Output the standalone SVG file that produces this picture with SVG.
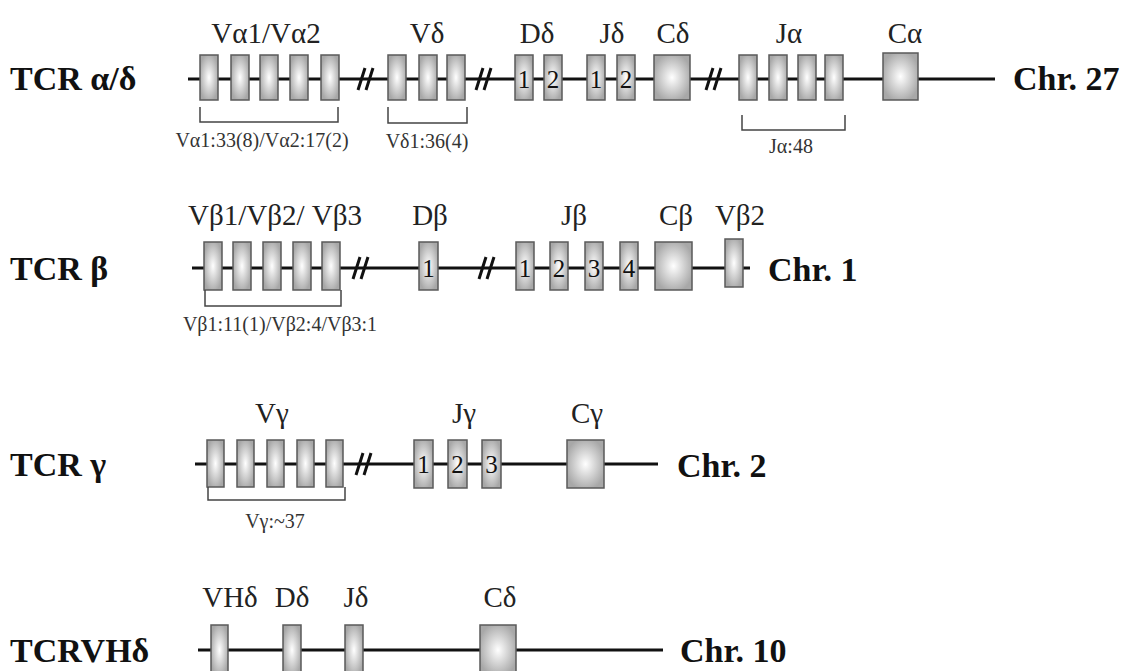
<svg xmlns="http://www.w3.org/2000/svg" width="1131" height="671" viewBox="0 0 1131 671">
<defs>
<radialGradient id="g" cx="0.5" cy="0.5" r="0.55">
<stop offset="0" stop-color="#ffffff"/>
<stop offset="1" stop-color="#a8a8a8"/>
</radialGradient>
<style>
.ln{stroke:#111;stroke-width:3;fill:none}
.sl{stroke:#111;stroke-width:3;fill:none}
.bx{fill:url(#g);stroke:#5a5a5a;stroke-width:1.5}
.br{fill:none;stroke:#444;stroke-width:1.5}
.t{font-family:"Liberation Serif",serif;font-size:29px;text-anchor:middle;fill:#222}
.h{font-family:"Liberation Serif",serif;font-size:34px;font-weight:bold;fill:#111}
.s{font-family:"Liberation Serif",serif;font-size:20px;text-anchor:middle;fill:#333}
.n{font-family:"Liberation Serif",serif;font-size:25px;text-anchor:middle;fill:#111}
</style>
</defs>
<rect width="1131" height="671" fill="#fff"/>
<g id="connectors">
<line class="ln" x1="188" y1="79" x2="995" y2="79"/>
<line class="ln" x1="192" y1="268" x2="750" y2="268"/>
<line class="ln" x1="195" y1="464" x2="658" y2="464"/>
<line class="ln" x1="198" y1="650" x2="663" y2="650"/>
<path class="sl" d="M358 90 L365 68 M366 90 L373 68 M476 90 L483 68 M484 90 L491 68 M706 90 L713 68 M714 90 L721 68"/>
<path class="sl" d="M353 279 L360 257 M361 279 L368 257 M479 279 L486 257 M487 279 L494 257"/>
<path class="sl" d="M356 475 L363 453 M364 475 L371 453"/>
</g>
<g id="row1">
<text class="h" x="10" y="90">TCR α/δ</text>
<g id="Va">
<text class="t" x="266" y="43">Vα1/Vα2</text>
<rect class="bx" x="200" y="55" width="18" height="45"/><rect class="bx" x="231" y="55" width="18" height="45"/><rect class="bx" x="260" y="55" width="18" height="45"/><rect class="bx" x="290" y="55" width="18" height="45"/><rect class="bx" x="321" y="55" width="18" height="45"/>
<path class="br" d="M200 107 V122 H338 V107"/>
<text class="s" x="262" y="147">Vα1:33(8)/Vα2:17(2)</text>
</g>
<g id="Vd">
<text class="t" x="427" y="43">Vδ</text>
<rect class="bx" x="388" y="55" width="18" height="45"/><rect class="bx" x="419" y="55" width="18" height="45"/><rect class="bx" x="447" y="55" width="18" height="45"/>
<path class="br" d="M388 107 V123 H467 V107"/>
<text class="s" x="427" y="148">Vδ1:36(4)</text>
</g>
<g id="Dd">
<text class="t" x="537" y="43">Dδ</text>
<rect class="bx" x="515" y="55" width="18" height="45"/><rect class="bx" x="544" y="55" width="18" height="45"/>
<text class="n" x="524" y="88">1</text><text class="n" x="553" y="88">2</text>
</g>
<g id="Jd">
<text class="t" x="612" y="43">Jδ</text>
<rect class="bx" x="587" y="55" width="18" height="45"/><rect class="bx" x="617" y="55" width="18" height="45"/>
<text class="n" x="596" y="88">1</text><text class="n" x="626" y="88">2</text>
</g>
<g id="Cd">
<text class="t" x="673" y="43">Cδ</text>
<rect class="bx" x="654" y="55" width="36" height="45"/>
</g>
<g id="Ja">
<text class="t" x="789" y="43">Jα</text>
<rect class="bx" x="739" y="55" width="18" height="45"/><rect class="bx" x="769" y="55" width="18" height="45"/><rect class="bx" x="798" y="55" width="18" height="45"/><rect class="bx" x="825" y="55" width="18" height="45"/>
<path class="br" d="M742 115 V130 H845 V115"/>
<text class="s" x="791" y="153">Jα:48</text>
</g>
<g id="Ca">
<text class="t" x="905" y="43">Cα</text>
<rect class="bx" x="883" y="53" width="35" height="47"/>
</g>
<text class="h" x="1013" y="90">Chr. 27</text>
</g>
<g id="row2">
<text class="h" x="10" y="280">TCR β</text>
<g id="Vb">
<text class="t" x="275" y="225">Vβ1/Vβ2/ Vβ3</text>
<rect class="bx" x="204" y="242" width="18" height="48"/><rect class="bx" x="233" y="242" width="18" height="48"/><rect class="bx" x="263" y="242" width="18" height="48"/><rect class="bx" x="293" y="242" width="18" height="48"/><rect class="bx" x="322" y="242" width="18" height="48"/>
<path class="br" d="M205 290 V306 H341 V290"/>
<text class="s" x="280" y="331">Vβ1:11(1)/Vβ2:4/Vβ3:1</text>
</g>
<g id="Db">
<text class="t" x="430" y="225">Dβ</text>
<rect class="bx" x="419" y="242" width="19" height="48"/>
<text class="n" x="428.5" y="277">1</text>
</g>
<g id="Jb">
<text class="t" x="574" y="225">Jβ</text>
<rect class="bx" x="516" y="242" width="18" height="48"/><rect class="bx" x="550" y="242" width="18" height="48"/><rect class="bx" x="585" y="242" width="18" height="48"/><rect class="bx" x="620" y="242" width="18" height="48"/>
<text class="n" x="525" y="277">1</text><text class="n" x="559" y="277">2</text><text class="n" x="594" y="277">3</text><text class="n" x="629" y="277">4</text>
</g>
<g id="Cb">
<text class="t" x="676" y="225">Cβ</text>
<rect class="bx" x="655" y="242" width="37" height="48"/>
</g>
<g id="Vb2">
<text class="t" x="740" y="225">Vβ2</text>
<rect class="bx" x="725" y="239" width="18" height="48"/>
</g>
<text class="h" x="768" y="281">Chr. 1</text>
</g>
<g id="row3">
<text class="h" x="10" y="476">TCR γ</text>
<g id="Vg">
<text class="t" x="272" y="423">Vγ</text>
<rect class="bx" x="207" y="440" width="17" height="47"/><rect class="bx" x="237" y="440" width="17" height="47"/><rect class="bx" x="267" y="440" width="17" height="47"/><rect class="bx" x="297" y="440" width="17" height="47"/><rect class="bx" x="326" y="440" width="17" height="47"/>
<path class="br" d="M208 487 V500 H345 V487"/>
<text class="s" x="275" y="528">Vγ:~37</text>
</g>
<g id="Jg">
<text class="t" x="464" y="423">Jγ</text>
<rect class="bx" x="414" y="440" width="19" height="48"/><rect class="bx" x="448" y="440" width="19" height="48"/><rect class="bx" x="482" y="440" width="19" height="48"/>
<text class="n" x="423.5" y="473">1</text><text class="n" x="457.5" y="473">2</text><text class="n" x="491.5" y="473">3</text>
</g>
<g id="Cg">
<text class="t" x="587" y="423">Cγ</text>
<rect class="bx" x="567" y="440" width="37" height="48"/>
</g>
<text class="h" x="677" y="477">Chr. 2</text>
</g>
<g id="row4">
<text class="h" x="10" y="662">TCRVHδ</text>
<g id="VHd"><text class="t" x="230" y="607">VHδ</text><rect class="bx" x="211" y="625" width="17" height="50"/></g>
<g id="Dd4"><text class="t" x="292" y="607">Dδ</text><rect class="bx" x="283" y="625" width="18" height="50"/></g>
<g id="Jd4"><text class="t" x="356" y="607">Jδ</text><rect class="bx" x="345" y="625" width="18" height="50"/></g>
<g id="Cd4"><text class="t" x="500" y="607">Cδ</text><rect class="bx" x="480" y="625" width="36" height="50"/></g>
<text class="h" x="680" y="662">Chr. 10</text>
</g>
</svg>
